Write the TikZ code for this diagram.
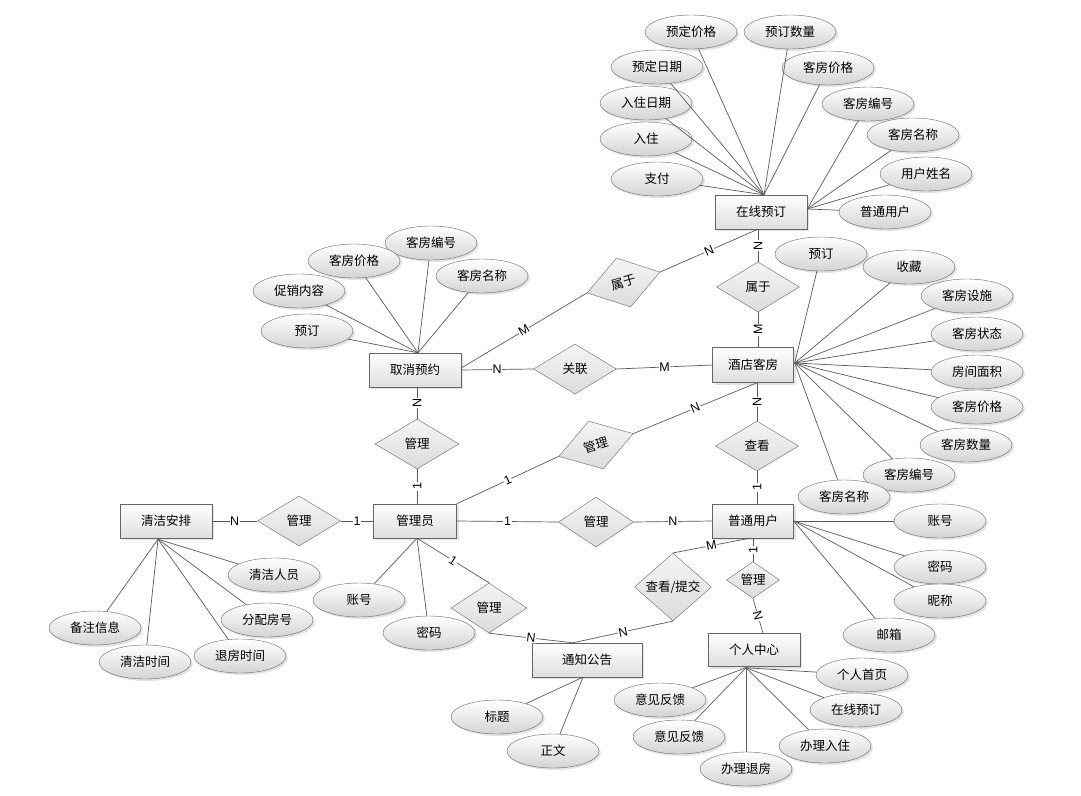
\documentclass[tikz,border=0pt]{standalone}
\usepackage{fontspec}
\setmainfont{Noto Sans CJK SC}
\newfontfamily\labfont{Liberation Sans}
\usetikzlibrary{shapes.geometric,shadows,calc}
\begin{document}
\begin{tikzpicture}[x=1pt,y=-1pt,
  every node/.style={font=\fontsize{12.5}{14}\selectfont},
  shd/.style={drop shadow={shadow xshift=2pt,shadow yshift=-2pt,opacity=0.22}},
  ent/.style={rectangle, draw=black!60, top color=white, bottom color=black!13, minimum height=34pt, inner sep=0pt, shd},
  attr/.style={ellipse, draw=black!60, top color=white, bottom color=black!17, minimum width=92pt, minimum height=34pt, inner sep=0pt, shd},
  rel/.style={diamond, draw=black!60, top color=black!4, bottom color=black!14, inner sep=0pt, minimum width=83pt, minimum height=50pt},
  lbl/.style={font=\labfont\fontsize{12.5}{14}\selectfont, fill=white, inner sep=0.6pt},
  ln/.style={draw=black!65, line width=0.7pt}
]
\useasboundingbox (0,0) rectangle (1081,795);

% ---------- entities ----------
\node[ent, minimum width=92pt] (zx) at (761,212) {在线预订};
\node[ent, minimum width=92pt] (qx) at (415,370) {取消预约};
\node[ent, minimum width=81pt, minimum height=35pt] (jd) at (753,365) {酒店客房};
\node[ent, minimum width=81pt] (pt) at (753,521) {普通用户};
\node[ent, minimum width=83pt] (gly) at (415,521) {管理员};
\node[ent, minimum width=92pt] (qj) at (166,521) {清洁安排};
\node[ent, minimum width=110pt] (tz) at (587,660) {通知公告};
\node[ent, minimum width=92pt, minimum height=33pt] (gr) at (754,650) {个人中心};

% ---------- relationships ----------
\node[rel, minimum width=76pt, minimum height=51pt, rotate=16] (r1) at (623.5,282.5) {属于};
\node[rel] (r2) at (758,287) {属于};
\node[rel] (r3) at (575,369) {关联};
\node[rel, minimum width=84pt] (r4) at (417,444) {管理};
\node[rel, minimum width=78pt, rotate=17] (r5) at (596,445) {管理};
\node[rel] (r6) at (757,446) {查看};
\node[rel] (r7) at (299,521) {管理};
\node[rel, minimum width=75pt] (r8) at (596,522) {管理};
\node[rel, minimum width=76pt] (r9) at (489,608) {管理};
\node[rel, minimum width=77pt, minimum height=51pt] (r10) at (673,587) {查看/提交};
\node[rel, minimum width=53pt, minimum height=29pt] (r11) at (753,580) {管理};

% ---------- attributes of 在线预订 ----------
\node[attr] (zx1) at (691,32) {预定价格};
\node[attr] (zx2) at (790,32) {预订数量};
\node[attr] (zx3) at (657,67) {预定日期};
\node[attr] (zx4) at (828,68) {客房价格};
\node[attr] (zx5) at (646,103) {入住日期};
\node[attr] (zx6) at (646,139) {入住};
\node[attr] (zx7) at (657,179) {支付};
\node[attr] (zx8) at (868,104) {客房编号};
\node[attr] (zx9) at (913,135) {客房名称};
\node[attr] (zx10) at (926,174) {用户姓名};
\node[attr] (zx11) at (885,212) {普通用户};
\coordinate (zxT) at ($(zx.north)+(3,0)$);
\coordinate (zxR) at ($(zx.east)+(0,-3)$);
\foreach \a in {zx1,zx2,zx3,zx4,zx5,zx6,zx7} \draw[ln] (\a) -- (zxT);
\foreach \a in {zx8,zx9,zx10,zx11} \draw[ln] (\a) -- (zxR);

% ---------- attributes of 取消预约 ----------
\node[attr] (qx1) at (431,243) {客房编号};
\node[attr] (qx2) at (354,261) {客房价格};
\node[attr] (qx3) at (482,276) {客房名称};
\node[attr] (qx4) at (299,291) {促销内容};
\node[attr] (qx5) at (307,331) {预订};
\coordinate (qxT) at ($(qx.north)+(3,0)$);
\foreach \a in {qx1,qx2,qx3,qx4,qx5} \draw[ln] (\a) -- (qxT);

% ---------- attributes of 酒店客房 ----------
\node[attr] (jd1) at (821,254) {预订};
\node[attr] (jd2) at (909,267) {收藏};
\node[attr] (jd3) at (967,296) {客房设施};
\node[attr] (jd4) at (977,334) {客房状态};
\node[attr] (jd5) at (977,372) {房间面积};
\node[attr] (jd6) at (977,407) {客房价格};
\node[attr] (jd7) at (966,445) {客房数量};
\node[attr] (jd8) at (909,475) {客房编号};
\node[attr] (jd9) at (844,497) {客房名称};
\coordinate (jdR) at ($(jd.east)+(1,-2)$);
\foreach \a in {jd1,jd2,jd3,jd4,jd5,jd6,jd7,jd8,jd9} \draw[ln] (\a) -- (jdR);

% ---------- attributes of 普通用户 ----------
\node[attr] (pt1) at (940,521) {账号};
\node[attr] (pt2) at (940,567) {密码};
\node[attr] (pt3) at (940,601) {昵称};
\node[attr] (pt4) at (889,635) {邮箱};
\foreach \a in {pt1,pt2,pt3,pt4} \draw[ln] (\a) -- (pt.east);

% ---------- attributes of 清洁安排 ----------
\node[attr] (qj1) at (274,575) {清洁人员};
\node[attr] (qj2) at (267,620) {分配房号};
\node[attr] (qj3) at (240,656) {退房时间};
\node[attr] (qj4) at (145,662) {清洁时间};
\node[attr] (qj5) at (95,628) {备注信息};
\coordinate (qjB) at ($(qj.south)+(-8,1)$);
\foreach \a in {qj1,qj2,qj3,qj4,qj5} \draw[ln] (\a) -- (qjB);

% ---------- attributes of 管理员 ----------
\node[attr] (gl1) at (359,600) {账号};
\node[attr] (gl2) at (429,633) {密码};
\coordinate (glB) at ($(gly.south)+(2,0)$);
\foreach \a in {gl1,gl2} \draw[ln] (\a) -- (glB);

% ---------- attributes of 通知公告 ----------
\node[attr] (tz1) at (497,717) {标题};
\node[attr] (tz2) at (553,751) {正文};
\coordinate (tzB) at ($(tz.south)+(-4,0)$);
\foreach \a in {tz1,tz2} \draw[ln] (\a) -- (tzB);

% ---------- attributes of 个人中心 ----------
\node[attr] (gr1) at (862,675) {个人首页};
\node[attr] (gr2) at (660,700) {意见反馈};
\node[attr] (gr3) at (856,710) {在线预订};
\node[attr] (gr4) at (679,737) {意见反馈};
\node[attr] (gr5) at (825,746) {办理入住};
\node[attr] (gr6) at (746,769) {办理退房};
\coordinate (grB) at ($(gr.south)+(-8,1)$);
\foreach \a in {gr1,gr2,gr3,gr4,gr5,gr6} \draw[ln] (\a) -- (grB);

% ---------- relationship connectors ----------
\coordinate (zxB) at (zx.south -| r2.north);
\coordinate (jdB) at (jd.south -| r6.north);
\coordinate (tzT) at ($(tz.north)+(-14,0)$);
\coordinate (grT) at ($(gr.north)+(9,0)$);

\draw[ln] ($(qx.east)+(0,-2)$) -- node[lbl,sloped]{M} (r1.west);
\draw[ln] (r1.east) -- node[lbl,sloped]{N} (zxB);
\draw[ln] (zxB) -- node[lbl,rotate=90]{N} (r2.north);
\draw[ln] (r2.south) -- node[lbl,rotate=90]{M} (r2.south |- jd.north);
\draw[ln] (qx.east) -- node[lbl]{N} (r3.west);
\draw[ln] (r3.east) -- node[lbl]{M} (jd.west);
\draw[ln] (qx.south -| r4.north) -- node[lbl,rotate=90]{N} (r4.north);
\draw[ln] (r4.south) -- node[lbl,rotate=90]{1} (r4.south |- gly.north);
\draw[ln] (gly.north east) -- node[lbl,sloped]{1} (r5.west);
\draw[ln] (r5.east) -- node[lbl,sloped]{N} (jdB);
\draw[ln] (jdB) -- node[lbl,rotate=90]{N} (r6.north);
\draw[ln] (r6.south) -- node[lbl,rotate=90]{1} (r6.south |- pt.north);
\draw[ln] (qj.east) -- node[lbl]{N} (r7.west);
\draw[ln] (r7.east) -- node[lbl]{1} (gly.west);
\draw[ln] (gly.east) -- node[lbl]{1} (r8.west);
\draw[ln] (r8.east) -- node[lbl]{N} (pt.west);
\draw[ln] (glB) -- node[lbl,sloped]{1} (r9.north);
\draw[ln] (r9.south) -- node[lbl,sloped]{N} (tzT);
\draw[ln] (r10.south) -- node[lbl,sloped]{N} (tzT);
\draw[ln] (r10.north) -- node[lbl,sloped]{M} ($(pt.south)+(-3,0)$);
\draw[ln] (pt.south) -- node[lbl,rotate=90]{1} (r11.north);
\draw[ln] (r11.south) -- node[lbl,sloped]{N} (grT);
\end{tikzpicture}
\end{document}
